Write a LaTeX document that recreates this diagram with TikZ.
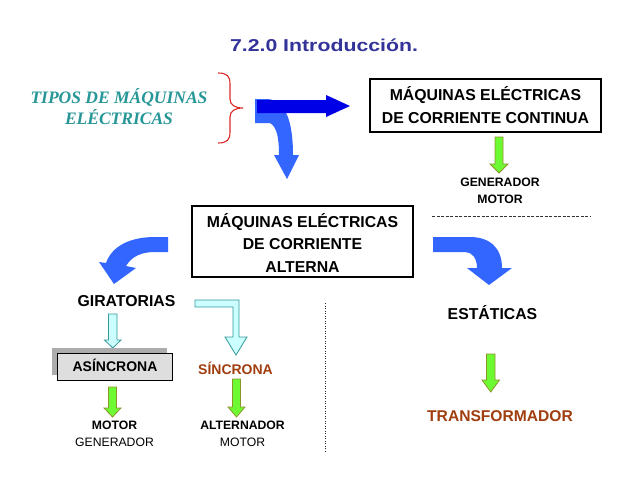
\documentclass[tikz,border=0pt]{standalone}
\usepackage{fontspec}
\setmainfont{Liberation Sans}
\newfontfamily\timesfont{Liberation Serif}
\definecolor{titleblue}{RGB}{51,51,153}
\definecolor{tealtxt}{RGB}{38,150,150}
\definecolor{darkblue}{RGB}{0,0,230}
\definecolor{lightblue}{RGB}{51,102,255}
\definecolor{brownred}{RGB}{160,62,15}
\definecolor{greenfill}{RGB}{110,250,50}
\definecolor{greenline}{RGB}{140,150,40}
\definecolor{cyanfill}{RGB}{204,255,255}
\definecolor{cyanline}{RGB}{51,153,153}
\definecolor{braceRed}{RGB}{220,40,40}
\tikzset{
  txt/.style={anchor=base, inner sep=0pt},
  bigb/.style={txt, font=\bfseries\fontsize{15.8}{18}\selectfont},
  midb/.style={txt, font=\bfseries\fontsize{14}{17}\selectfont},
  smallb/.style={txt, font=\bfseries\fontsize{12.2}{14}\selectfont},
  smallr/.style={txt, font=\fontsize{12.2}{14}\selectfont},
  framebox/.style={draw=black, line width=1.2pt},
  greenarrow/.style={fill=greenfill, draw=greenline, line width=0.8pt, line join=miter},
  cyanarrow/.style={fill=cyanfill, draw=cyanline, line width=0.8pt, line join=miter},
}
\begin{document}
\begin{tikzpicture}[x=1pt,y=-1pt]
\useasboundingbox (0,0) rectangle (638,479);
\fill[white] (0,0) rectangle (638,479);

% title
\node[txt, font=\bfseries\fontsize{17.2}{20}\selectfont, text=titleblue] (title) at (324,52) {\scalebox{1.237}[1]{7.2.0 Introducción.}};

% tipos
\node[txt, font=\timesfont\bfseries\itshape\fontsize{17.5}{20}\selectfont, text=tealtxt] (tipos1) at (119,103) {TIPOS DE MÁQUINAS};
\node[txt, font=\timesfont\bfseries\itshape\fontsize{17.5}{20}\selectfont, text=tealtxt] (tipos2) at (119,124) {ELÉCTRICAS};

% brace
\draw[braceRed, line width=1.1pt] (218,73) .. controls (227,73) and (230,76) .. (230,84) -- (230,99)
  .. controls (230,105) and (235,108) .. (243,108)
  .. controls (235,108) and (230,111) .. (230,117) -- (230,132)
  .. controls (230,140) and (227,143) .. (218,143);

% top arrows
\fill[lightblue] (255,99) -- (266,99) .. controls (284,99) and (293,118) .. (293,155) -- (299,155) -- (287,179)
  -- (274,155) -- (279,155) .. controls (279,138) and (277,127) .. (270,123) -- (255,123) -- cycle;
\fill[darkblue] (257,100) -- (326,100) -- (326,95) -- (350,106) -- (326,117) -- (326,113) -- (257,113) -- cycle;

% CC box
\node[framebox, minimum width=231pt, minimum height=53pt, inner sep=0pt] (ccbox) at (485.5,105.5) {};
\node[bigb] (cc1) at (485.5,100) {MÁQUINAS ELÉCTRICAS};
\node[bigb] (cc2) at (485.5,123) {DE CORRIENTE CONTINUA};

% green arrow under CC
\draw[greenarrow] (495,137) -- (503,137) -- (503,164) -- (508,164) -- (499,173) -- (490,164) -- (495,164) -- cycle;
\node[smallb] (gen1) at (500,186) {GENERADOR};
\node[smallb] (mot1) at (500,203) {MOTOR};

% dashed line
\coordinate (dl1) at (432,216);
\coordinate (dl2) at (590,216);
\draw[black!80, line width=0.6pt, dash pattern=on 3pt off 1.5pt] (dl1) -- (dl2);

% AC box
\node[framebox, minimum width=221pt, minimum height=71pt, inner sep=0pt] (acbox) at (302.5,241.5) {};
\node[bigb] (ac1) at (302.5,227) {MÁQUINAS ELÉCTRICAS};
\node[bigb] (ac2) at (302.5,249.5) {DE CORRIENTE};
\node[bigb] (ac3) at (302.5,272) {ALTERNA};

% curved arrows
\fill[lightblue] (168,237) -- (155,237) .. controls (130,237) and (112,246) .. (106,263) -- (99,262) -- (114,284)
  -- (136,268) -- (126,266) .. controls (132,256) and (142,252) .. (155,252) -- (168,252) -- cycle;
\fill[lightblue] (433,237) -- (470,237) .. controls (490,237) and (502,248) .. (502,268) -- (512,268) -- (489,285)
  -- (467,268) -- (477,268) .. controls (477,258) and (472,252) .. (465,252) -- (433,252) -- cycle;

% labels
\node[bigb] (gir) at (126.5,306) {GIRATORIAS};
\node[bigb] (est) at (492.5,319) {ESTÁTICAS};

% cyan arrows
\draw[cyanarrow] (108.5,314) -- (117,314) -- (117,340) -- (121,340) -- (112.75,348) -- (104.5,340) -- (108.5,340) -- cycle;
\draw[cyanarrow] (195,300) -- (239,300) -- (239,337) -- (247,337) -- (236,355) -- (225,337) -- (233,337) -- (233,307) -- (195,307) -- cycle;

% asincrona
\fill[gray!65] (52,348) rectangle (167,375);
\node[draw=black, line width=1pt, fill=black!13, minimum width=115pt, minimum height=27pt, inner sep=0pt] (asbox) at (114.5,366.5) {};
\node[midb] (asin) at (115,371) {ASÍNCRONA};
\node[midb, text=brownred] (sinc) at (235.5,374) {SÍNCRONA};

% green arrows bottom
\draw[greenarrow] (108.5,387) -- (116.5,387) -- (116.5,408) -- (121,408) -- (112.5,417) -- (104,408) -- (108.5,408) -- cycle;
\draw[greenarrow] (232.5,379) -- (240.5,379) -- (240.5,407) -- (245,407) -- (236.5,417) -- (228,407) -- (232.5,407) -- cycle;
\draw[greenarrow] (486.5,354) -- (495,354) -- (495,380) -- (499.5,380) -- (490.75,392) -- (482,380) -- (486.5,380) -- cycle;

\node[smallb] (mot2) at (114.5,429) {MOTOR};
\node[smallr] (gen2) at (114.5,446.5) {GENERADOR};
\node[smallb] (alt) at (242.5,429) {ALTERNADOR};
\node[smallr] (mot3) at (242.5,446.5) {MOTOR};

\node[txt, font=\bfseries\fontsize{15.6}{18}\selectfont, text=brownred] (trans) at (500,421) {TRANSFORMADOR};

% dotted vertical line
\coordinate (vl1) at (325,303);
\coordinate (vl2) at (325,452);
\draw[black!85, line width=0.7pt, dash pattern=on 1.2pt off 1.3pt] (vl1) -- (vl2);
\end{tikzpicture}
\end{document}
